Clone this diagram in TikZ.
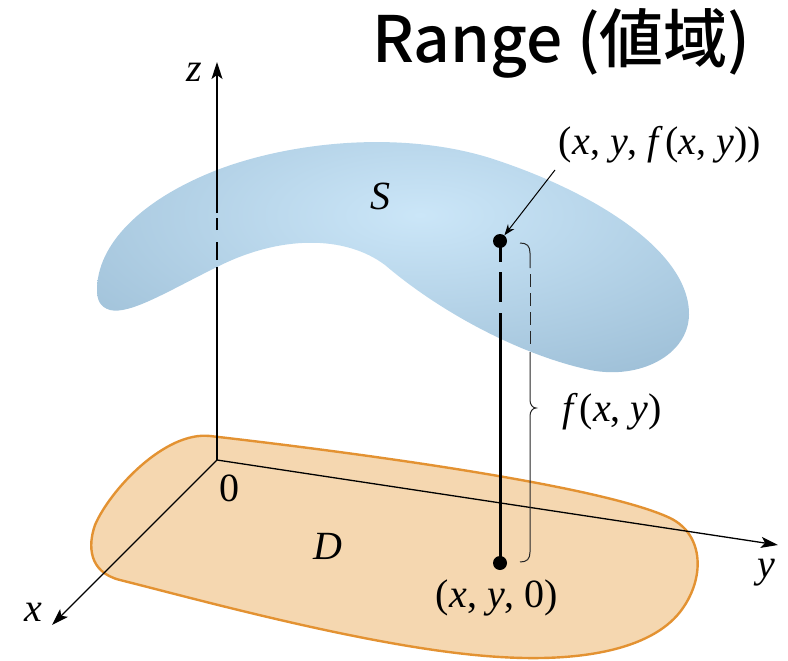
\documentclass[tikz,border=0pt]{standalone}
\usepackage{fontspec}
\setmainfont{Liberation Serif}
\newfontfamily\cjkfont{Noto Sans CJK JP Medium}
\usetikzlibrary{arrows.meta}
\definecolor{dfill}{HTML}{F5D7B0}
\definecolor{dline}{HTML}{E39232}
\definecolor{sin}{HTML}{CBE6F8}
\definecolor{sout}{HTML}{8CB0CA}
\begin{document}
\begin{tikzpicture}[x=1pt,y=-1pt,
  axisline/.style={line width=1.3pt},
  axis/.style={line width=1.3pt, -{Stealth[length=17pt,width=11pt,inset=4pt]}},
  lbl/.style={font=\fontsize{40}{44}\selectfont, inner sep=0pt},
  rod/.style={line width=3pt},
  bracel/.style={line width=1pt, black!85},
  dotn/.style={circle, fill=black, minimum size=14pt, inner sep=0pt}]
\useasboundingbox (0,0) rectangle (788,661);

% domain D
\draw[fill=dfill, draw=dline, line width=2.4pt]
 (210,436) .. controls (350,452) and (600,485) .. (670,518)
 .. controls (705,535) and (705,580) .. (680,612)
 .. controls (650,650) and (580,662) .. (500,657)
 .. controls (380,650) and (200,600) .. (120,580)
 .. controls (88,572) and (88,545) .. (95,525)
 .. controls (110,490) and (165,431) .. (210,436) -- cycle;

% surface S
\begin{scope}
\clip (97,290) .. controls (97,245) and (140,200) .. (217,170)
 .. controls (290,142) and (400,130) .. (490,158)
 .. controls (590,190) and (690,250) .. (689,315)
 .. controls (688,355) and (640,380) .. (590,370)
 .. controls (520,355) and (440,312) .. (385,265)
 .. controls (345,235) and (280,235) .. (217,267)
 .. controls (170,290) and (130,315) .. (110,310)
 .. controls (100,307) and (97,300) .. (97,290) -- cycle;
\shade[inner color=sin, outer color=sout] (420,215) ellipse (620pt and 260pt);
\end{scope}

% axes
\coordinate (O) at (217,460);
\coordinate (Ztip) at (217,62);
\coordinate (Xtip) at (52,625);
\coordinate (Ytip) at (778,545);
\coordinate (z1) at (217,267);
\coordinate (z2a) at (217,260);
\coordinate (z2b) at (217,242);
\coordinate (z3a) at (217,230);
\coordinate (z3b) at (217,218);
\coordinate (z4) at (217,213);
\draw[axisline] (O) -- (z1);
\draw[axisline] (z2a) -- (z2b);
\draw[axisline] (z3a) -- (z3b);
\draw[axis] (z4) -- (Ztip);
\draw[axis] (O) -- (Xtip);
\draw[axis] (O) -- (Ytip);

% rod
\node[dotn] (P) at (500,241) {};
\node[dotn] (Q) at (500,563) {};
\coordinate (r1) at (500,313);
\coordinate (r2) at (500,302);
\coordinate (r3) at (500,272);
\coordinate (r4) at (500,262);
\draw[rod] (Q.center) -- (r1);
\draw[rod] (r2) -- (r3);
\draw[rod] (r4) -- (P.center);

% brace
\draw[bracel] (520,243) .. controls (527,243) and (530,246) .. (530,253) -- (530,268);
\draw[bracel, dash pattern=on 13pt off 6pt] (530,274) -- (530,350);
\draw[bracel] (530,352) -- (530,400) .. controls (530,405) and (533,408) .. (536,408)
  .. controls (533,408) and (530,411) .. (530,416) -- (530,552)
  .. controls (530,559) and (527,562) .. (520,562);

% labels
\node[lbl] (zl) at (194,72) {\textit{z}};
\node[lbl] (xl) at (33,612) {\textit{x}};
\node[lbl] (yl) at (766,573) {\textit{y}};
\node[lbl] (ol) at (229,488) {0};
\node[lbl] (dl) at (328,546) {\textit{D}};
\node[lbl] (sl) at (380,196) {\textit{S}};
\node[lbl] (topl) at (660,145) {(\textit{x}, \textit{y}, \textit{f}\kern2pt(\textit{x}, \textit{y}))};
\node[lbl] (fl) at (612,412) {\textit{f}\kern2pt(\textit{x}, \textit{y})};
\node[lbl] (botl) at (497,598) {(\textit{x}, \textit{y}, 0)};
\coordinate (a1) at (555,170);
\draw[line width=1pt, -{Stealth[length=11pt,width=8pt]}] (a1) -- (P);

% title
\node[anchor=base west, inner sep=0pt, font=\cjkfont\fontsize{64}{70}\selectfont] (title) at (372,63) {Range (値域)};
\end{tikzpicture}
\end{document}
